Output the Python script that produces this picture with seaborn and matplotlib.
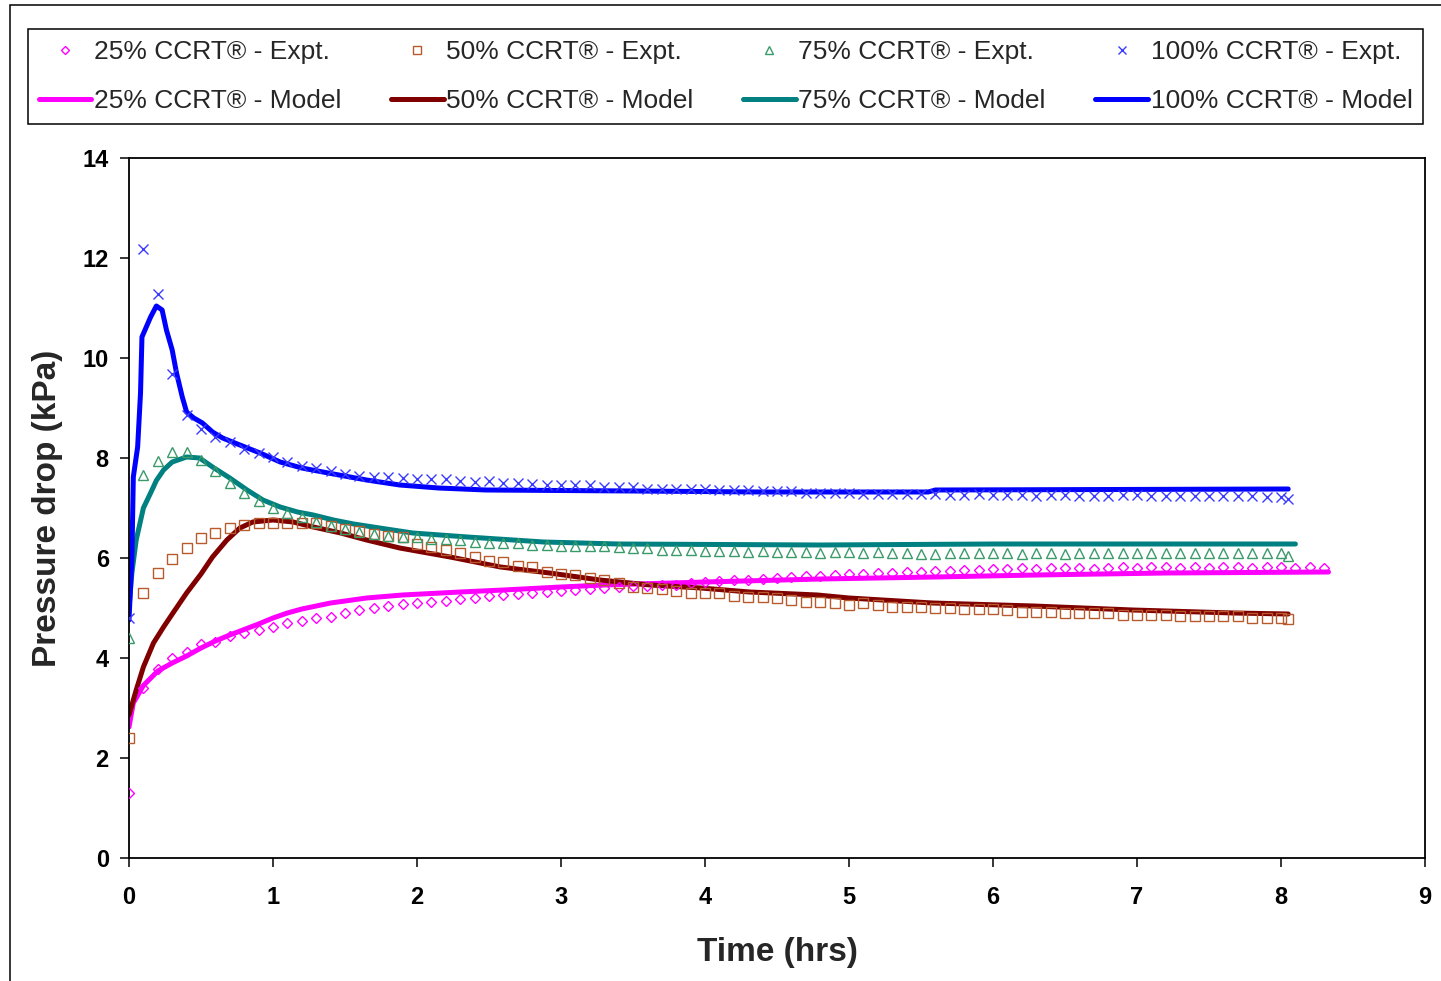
import matplotlib
matplotlib.use('Agg')
import matplotlib.pyplot as plt
from matplotlib.patches import Rectangle
import seaborn as sns

#=============================================================================
# Experimental data, sampled every 0.1 hr
t_expt = [0.0, 0.1, 0.2, 0.3, 0.4, 0.5, 0.6, 0.7, 0.8, 0.9,
          1.0, 1.1, 1.2, 1.3, 1.4, 1.5, 1.6, 1.7, 1.8, 1.9,
          2.0, 2.1, 2.2, 2.3, 2.4, 2.5, 2.6, 2.7, 2.8, 2.9,
          3.0, 3.1, 3.2, 3.3, 3.4, 3.5, 3.6, 3.7, 3.8, 3.9,
          4.0, 4.1, 4.2, 4.3, 4.4, 4.5, 4.6, 4.7, 4.8, 4.9,
          5.0, 5.1, 5.2, 5.3, 5.4, 5.5, 5.6, 5.7, 5.8, 5.9,
          6.0, 6.1, 6.2, 6.3, 6.4, 6.5, 6.6, 6.7, 6.8, 6.9,
          7.0, 7.1, 7.2, 7.3, 7.4, 7.5, 7.6, 7.7, 7.8, 7.9,
          8.0]

t25_expt = t_expt + [8.1, 8.2, 8.3]
p25_expt = [1.30, 3.40, 3.78, 4.00, 4.12, 4.28, 4.32, 4.44, 4.50, 4.56,
            4.62, 4.70, 4.74, 4.80, 4.82, 4.90, 4.96, 5.00, 5.04, 5.08,
            5.10, 5.12, 5.14, 5.18, 5.20, 5.24, 5.26, 5.28, 5.30, 5.32,
            5.34, 5.36, 5.38, 5.40, 5.42, 5.44, 5.44, 5.46, 5.46, 5.50,
            5.52, 5.54, 5.56, 5.56, 5.58, 5.60, 5.62, 5.64, 5.64, 5.66,
            5.68, 5.68, 5.70, 5.70, 5.72, 5.72, 5.74, 5.74, 5.76, 5.76,
            5.78, 5.78, 5.80, 5.78, 5.80, 5.80, 5.80, 5.78, 5.80, 5.82,
            5.80, 5.82, 5.82, 5.80, 5.82, 5.80, 5.82, 5.82, 5.80, 5.82,
            5.82, 5.80, 5.82, 5.80]

t50_expt = t_expt + [8.05]
p50_expt = [2.40, 5.30, 5.70, 5.98, 6.20, 6.40, 6.50, 6.60, 6.66, 6.70,
            6.70, 6.70, 6.70, 6.70, 6.64, 6.58, 6.54, 6.48, 6.44, 6.42,
            6.28, 6.22, 6.16, 6.10, 6.02, 5.94, 5.92, 5.84, 5.82, 5.72,
            5.68, 5.66, 5.60, 5.56, 5.50, 5.42, 5.40, 5.38, 5.34, 5.30,
            5.30, 5.30, 5.24, 5.22, 5.22, 5.20, 5.16, 5.12, 5.12, 5.10,
            5.06, 5.10, 5.06, 5.02, 5.02, 5.02, 5.00, 5.00, 4.98, 4.98,
            4.98, 4.96, 4.92, 4.92, 4.92, 4.90, 4.90, 4.90, 4.90, 4.86,
            4.86, 4.86, 4.86, 4.84, 4.84, 4.84, 4.84, 4.84, 4.80, 4.80,
            4.80, 4.78]

t75_expt = t_expt + [8.05]
p75_expt = [4.40, 7.66, 7.94, 8.12, 8.12, 7.96, 7.74, 7.50, 7.30, 7.14,
            7.00, 6.90, 6.82, 6.72, 6.64, 6.58, 6.52, 6.48, 6.44, 6.42,
            6.42, 6.38, 6.38, 6.36, 6.32, 6.30, 6.30, 6.30, 6.26, 6.26,
            6.24, 6.24, 6.24, 6.24, 6.22, 6.20, 6.20, 6.16, 6.16, 6.16,
            6.14, 6.14, 6.14, 6.12, 6.14, 6.12, 6.12, 6.12, 6.10, 6.12,
            6.12, 6.10, 6.12, 6.10, 6.10, 6.08, 6.08, 6.10, 6.10, 6.10,
            6.10, 6.10, 6.08, 6.10, 6.10, 6.08, 6.10, 6.10, 6.10, 6.10,
            6.10, 6.10, 6.10, 6.10, 6.10, 6.10, 6.10, 6.10, 6.10, 6.10,
            6.10, 6.04]

t100_expt = t_expt + [8.05]
p100_expt = [4.80, 12.18, 11.28, 9.68, 8.86, 8.58, 8.42, 8.32, 8.18, 8.10,
             8.02, 7.92, 7.84, 7.80, 7.74, 7.68, 7.64, 7.62, 7.62, 7.60,
             7.58, 7.58, 7.58, 7.54, 7.52, 7.54, 7.50, 7.50, 7.48, 7.46,
             7.46, 7.46, 7.46, 7.42, 7.42, 7.42, 7.38, 7.38, 7.38, 7.38,
             7.38, 7.36, 7.36, 7.36, 7.34, 7.34, 7.34, 7.30, 7.30, 7.30,
             7.30, 7.28, 7.28, 7.28, 7.28, 7.28, 7.28, 7.26, 7.26, 7.28,
             7.26, 7.26, 7.26, 7.24, 7.26, 7.26, 7.24, 7.24, 7.24, 7.26,
             7.26, 7.24, 7.24, 7.24, 7.24, 7.24, 7.24, 7.24, 7.24, 7.22,
             7.22, 7.18]

#=============================================================================
# Model curves
t25_model = [0, 0.03, 0.1, 0.2, 0.3, 0.4, 0.5, 0.6, 0.7, 0.8, 0.9, 1.0,
             1.1, 1.2, 1.4, 1.65, 1.9, 2.3, 2.6, 3.0, 3.3, 4.0, 4.8, 5.6,
             6.3, 7.2, 8.33]
p25_model = [2.62, 3.10, 3.45, 3.74, 3.90, 4.04, 4.20, 4.34, 4.46, 4.57,
             4.68, 4.80, 4.90, 4.98, 5.10, 5.20, 5.26, 5.32, 5.36, 5.42,
             5.46, 5.52, 5.58, 5.62, 5.66, 5.70, 5.72]

t50_model = [0, 0.05, 0.1, 0.17, 0.24, 0.31, 0.4, 0.5, 0.58, 0.68, 0.77,
             0.86, 1.0, 1.14, 1.28, 1.47, 1.65, 1.88, 2.23, 2.58, 2.92,
             3.27, 3.62, 3.97, 4.31, 4.78, 5.0, 5.58, 6.28, 6.97, 7.67, 8.05]
p50_model = [2.86, 3.36, 3.82, 4.30, 4.62, 4.92, 5.30, 5.68, 6.02, 6.36,
             6.60, 6.72, 6.76, 6.72, 6.62, 6.50, 6.36, 6.20, 6.02, 5.82,
             5.70, 5.56, 5.46, 5.40, 5.32, 5.26, 5.20, 5.10, 5.04, 4.96,
             4.90, 4.88]

t75_model = [0, 0.02, 0.05, 0.1, 0.15, 0.19, 0.24, 0.3, 0.4, 0.49, 0.58,
             0.7, 0.82, 0.93, 1.05, 1.17, 1.28, 1.42, 1.56, 1.74, 1.97,
             2.35, 2.88, 3.4, 4.8, 6.0, 8.1]
p75_model = [5.00, 5.70, 6.36, 7.00, 7.30, 7.55, 7.76, 7.92, 8.02, 8.00,
             7.82, 7.60, 7.36, 7.16, 7.02, 6.92, 6.86, 6.76, 6.68, 6.60,
             6.50, 6.42, 6.32, 6.28, 6.26, 6.28, 6.28]

t100_model = [0, 0.02, 0.03, 0.06, 0.08, 0.09, 0.12, 0.15, 0.19, 0.23,
              0.26, 0.3, 0.33, 0.37, 0.4, 0.45, 0.51, 0.58, 0.65, 0.77,
              0.91, 1.05, 1.2, 1.42, 1.65, 1.88, 2.15, 2.48, 3.5, 4.4,
              5.55, 5.6, 8.05]
p100_model = [4.76, 6.00, 7.62, 8.22, 9.30, 10.42, 10.62, 10.82, 11.04,
              10.96, 10.56, 10.16, 9.70, 9.22, 8.92, 8.80, 8.70, 8.52,
              8.40, 8.26, 8.10, 7.92, 7.80, 7.68, 7.56, 7.46, 7.40, 7.36,
              7.34, 7.32, 7.32, 7.36, 7.38]

#=============================================================================
# Style
sns.set_style('ticks')
plt.rcParams['font.family'] = ['Liberation Sans', 'DejaVu Sans']

W, H = 1441, 981
fig = plt.figure(figsize=(W / 100, H / 100), dpi=100)
ax = fig.add_axes([129 / W, 1 - 858 / H, (1425 - 129) / W, (858 - 158) / H])

#(time, values, marker, colour, markersize, label)
expt = [(t25_expt, p25_expt, 'D', '#FF00FF', 5.2, '25% CCRT® - Expt.'),
        (t50_expt, p50_expt, 's', '#B85A2C', 7.0, '50% CCRT® - Expt.'),
        (t75_expt, p75_expt, '^', '#3A9A6A', 7.6, '75% CCRT® - Expt.'),
        (t100_expt, p100_expt, 'x', '#3C3CFF', 6.8, '100% CCRT® - Expt.')]

model = [(t25_model, p25_model, '#FF00FF', '25% CCRT® - Model'),
         (t50_model, p50_model, '#800000', '50% CCRT® - Model'),
         (t75_model, p75_model, '#008080', '75% CCRT® - Model'),
         (t100_model, p100_model, '#0000FF', '100% CCRT® - Model')]

handles, labels = [], []
for (te, pe, mk, ce, ms, le), (tm, pm, cm, lm) in zip(expt, model):
    sns.lineplot(x=tm, y=pm, ax=ax, color=cm, linewidth=3.6,
                 estimator=None, sort=False, zorder=2)
    hm = ax.lines[-1]
    sns.lineplot(x=te, y=pe, ax=ax, linestyle='', marker=mk,
                 markersize=ms, markerfacecolor='none', markeredgecolor=ce,
                 markeredgewidth=1.0, color=ce, estimator=None, sort=False,
                 zorder=3)
    he = ax.lines[-1]
    handles += [he, hm]
    labels += [le, lm]

ax.set_xlim(0, 9)
ax.set_ylim(0, 14)
ax.set_xticks(range(0, 10))
ax.set_yticks(range(0, 15, 2))
ax.tick_params(axis='both', direction='out', length=6.5, width=1.1,
               labelsize=17, colors='black')
ax.tick_params(axis='x', pad=14)
ax.tick_params(axis='y', pad=8)
for lab in ax.get_xticklabels() + ax.get_yticklabels():
    lab.set_fontweight('bold')

for sp in ax.spines.values():
    sp.set_visible(True)
    sp.set_linewidth(1.3)
    sp.set_color('black')

ax.set_xlabel('Time (hrs)', fontsize=24, fontweight='bold', labelpad=20)
ax.set_ylabel('Pressure drop (kPa)', fontsize=24, fontweight='bold',
              labelpad=14)

leg = fig.legend(handles, labels, ncol=4, loc='center',
                 bbox_to_anchor=(28 / W, 1 - 128 / H, (1423 - 28) / W,
                                 (128 - 25) / H),
                 mode='expand', borderaxespad=0, fontsize=19,
                 frameon=True, fancybox=False, edgecolor='black',
                 framealpha=1, handlelength=2.0, handletextpad=0.1,
                 labelspacing=0.95, borderpad=0.4, markerscale=0.85)
leg.get_frame().set_linewidth(1.1)

#outer chart border
fig.patches.append(Rectangle((10 / W, -0.05), 1.2, 1 - 5 / H + 0.05,
                             transform=fig.transFigure, fill=False,
                             edgecolor='black', linewidth=1.1))

fig.savefig('out.png', dpi=100)
